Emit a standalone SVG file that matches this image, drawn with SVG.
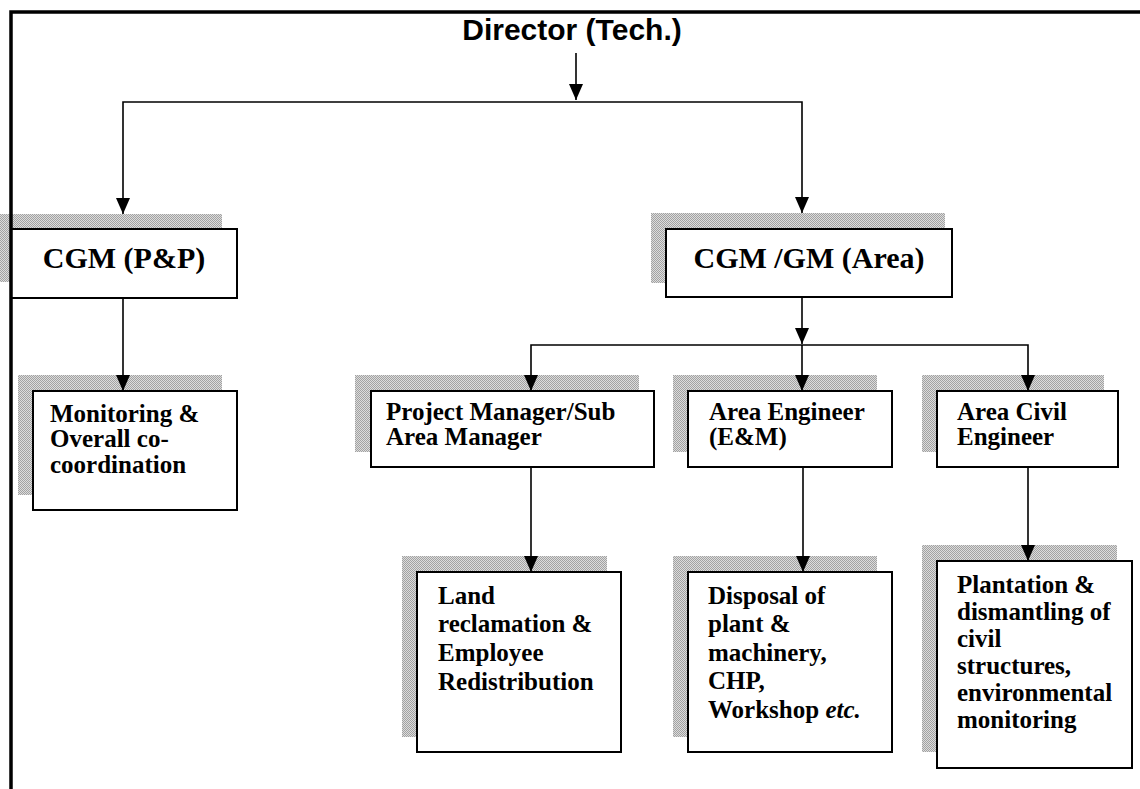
<svg xmlns="http://www.w3.org/2000/svg" width="1140" height="789" viewBox="0 0 1140 789">
<style>
.box{fill:#fff;stroke:#000;stroke-width:2}
.sh{fill:url(#shade);stroke:none}
.t{font-family:"Liberation Serif","Times New Roman",serif;font-weight:bold;font-size:25px;fill:#000}
.big{font-size:30px}
.hd{font-family:"Liberation Sans",Arial,sans-serif;font-weight:bold;font-size:30px;fill:#000}
.c{fill:none;stroke:#000;stroke-width:1.6}
</style>
<defs>
<pattern id="shade" width="2" height="2" patternUnits="userSpaceOnUse">
<rect width="2" height="2" fill="#dcdcdc"/>
<rect width="1" height="1" fill="#a2a2a2"/>
<rect x="1" y="1" width="1" height="1" fill="#a2a2a2"/>
</pattern>
<marker id="ah" markerUnits="userSpaceOnUse" markerWidth="14" markerHeight="16" viewBox="0 0 14 16" refX="7" refY="16" orient="0">
<path d="M0,0 L14,0 L7,16 Z" fill="#000"/>
</marker>
</defs>
<rect width="1140" height="789" fill="#fff"/>

<g id="director">
<text class="hd" x="572" y="40" text-anchor="middle">Director (Tech.)</text>
</g>

<g id="cgm-pp">
<rect class="sh" x="0" y="214" width="222" height="68"/>
<rect class="box" x="11" y="229" width="226" height="69"/>
<text class="t big" x="124" y="268" text-anchor="middle">CGM (P&amp;P)</text>
</g>

<g id="cgm-gm-area">
<rect class="sh" x="651" y="213" width="294" height="70"/>
<rect class="box" x="666" y="229" width="286" height="68"/>
<text class="t big" x="809" y="268" text-anchor="middle">CGM /GM (Area)</text>
</g>

<g id="monitoring">
<rect class="sh" x="18" y="375" width="204" height="120"/>
<rect class="box" x="33" y="391" width="204" height="119"/>
<text class="t" x="50" y="422">Monitoring &amp;</text>
<text class="t" x="50" y="447">Overall co-</text>
<text class="t" x="50" y="473">coordination</text>
</g>

<g id="project-manager">
<rect class="sh" x="355" y="375" width="284" height="77"/>
<rect class="box" x="371" y="391" width="283" height="76"/>
<text class="t" x="386" y="420">Project Manager/Sub</text>
<text class="t" x="386" y="445">Area Manager</text>
</g>

<g id="area-engineer">
<rect class="sh" x="673" y="375" width="204" height="77"/>
<rect class="box" x="688" y="391" width="204" height="76"/>
<text class="t" x="709" y="420">Area Engineer</text>
<text class="t" x="709" y="445">(E&amp;M)</text>
</g>

<g id="area-civil-engineer">
<rect class="sh" x="922" y="375" width="182" height="77"/>
<rect class="box" x="937" y="391" width="181" height="76"/>
<text class="t" x="957" y="420">Area Civil</text>
<text class="t" x="957" y="445">Engineer</text>
</g>

<g id="land-reclamation">
<rect class="sh" x="402" y="556" width="205" height="181"/>
<rect class="box" x="417" y="572" width="204" height="180"/>
<text class="t" x="438" y="604">Land</text>
<text class="t" x="438" y="632">reclamation &amp;</text>
<text class="t" x="438" y="661">Employee</text>
<text class="t" x="438" y="690">Redistribution</text>
</g>

<g id="disposal">
<rect class="sh" x="673" y="556" width="204" height="181"/>
<rect class="box" x="688" y="572" width="204" height="180"/>
<text class="t" x="708" y="604">Disposal of</text>
<text class="t" x="708" y="632">plant &amp;</text>
<text class="t" x="708" y="661">machinery,</text>
<text class="t" x="708" y="689">CHP,</text>
<text class="t" x="708" y="718">Workshop <tspan font-style="italic">etc.</tspan></text>
</g>

<g id="plantation">
<rect class="sh" x="922" y="545" width="195" height="207"/>
<rect class="box" x="937" y="561" width="195" height="207"/>
<text class="t" x="957" y="593">Plantation &amp;</text>
<text class="t" x="957" y="620">dismantling of</text>
<text class="t" x="957" y="647">civil</text>
<text class="t" x="957" y="674">structures,</text>
<text class="t" x="957" y="701">environmental</text>
<text class="t" x="957" y="728">monitoring</text>
</g>

<g id="connectors">
<path class="c" d="M576,53 V100" marker-end="url(#ah)"/>
<path class="c" d="M576,102 H123 V214" marker-end="url(#ah)"/>
<path class="c" d="M576,102 H802 V213" marker-end="url(#ah)"/>
<path class="c" d="M123,298 V391" marker-end="url(#ah)"/>
<path class="c" d="M802,297 V344" marker-end="url(#ah)"/>
<path class="c" d="M802,345 H531 V391" marker-end="url(#ah)"/>
<path class="c" d="M802,345 V391" marker-end="url(#ah)"/>
<path class="c" d="M802,345 H1028 V391" marker-end="url(#ah)"/>
<path class="c" d="M531,467 V572" marker-end="url(#ah)"/>
<path class="c" d="M803,467 V572" marker-end="url(#ah)"/>
<path class="c" d="M1028,467 V561" marker-end="url(#ah)"/>
</g>

<g id="frame">
<path d="M11,789 V12 H1140" fill="none" stroke="#000" stroke-width="3.5"/>
</g>
</svg>
